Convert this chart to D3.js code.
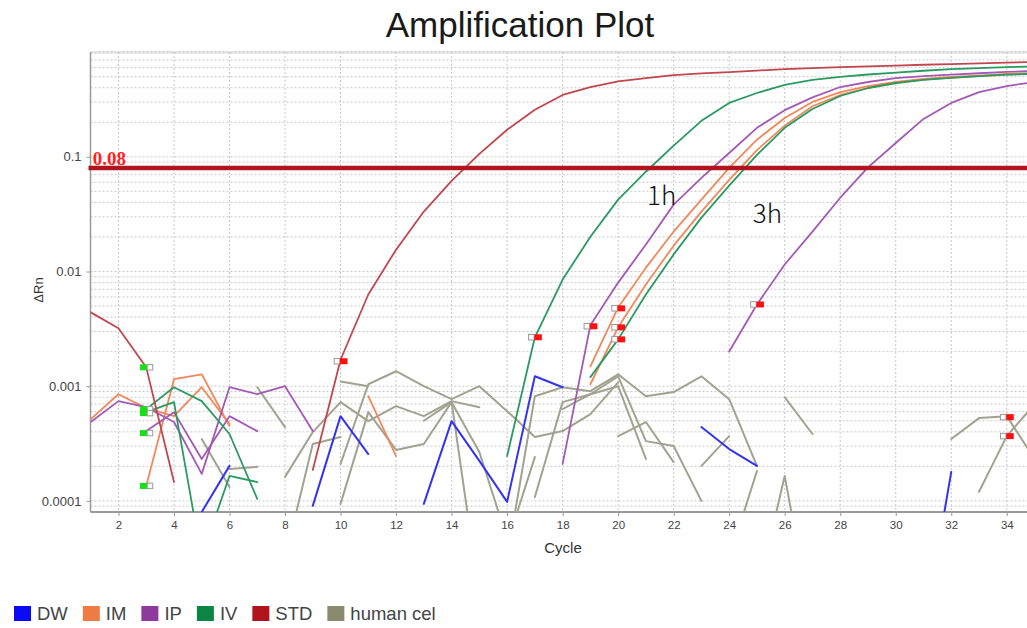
<!DOCTYPE html>
<html>
<head>
<meta charset="utf-8">
<script src="https://cdn.jsdelivr.net/npm/d3@7"></script>
<style>
  html, body { margin: 0; padding: 0; background: #ffffff; }
  svg { display: block; }
</style>
</head>
<body>
<svg id="chart" width="1027" height="628"></svg>
<script>
// ---------------- data ----------------
const chartTitle = "Amplification Plot";
const xLabel = "Cycle";
const yLabel = "ΔRn";
const xTicks = [2, 4, 6, 8, 10, 12, 14, 16, 18, 20, 22, 24, 26, 28, 30, 32, 34];
const yTicks = [0.0001, 0.001, 0.01, 0.1];
const yTickLabels = ["0.0001", "0.001", "0.01", "0.1"];
const threshold = 0.08;
const thresholdLabel = "0.08";
const legendNames = ["DW", "IM", "IP", "IV", "STD", "human cel"];
const annotations = [["1h", 21.04, 0.038], ["3h", 24.85, 0.0265]];

// each trace: [first cycle, ΔRn per cycle]
const dwTraces = [
  [5, [0.00008, 0.000202]],
  [9, [0.0000905, 0.000548, 0.000256]],
  [13, [0.0000942, 0.000496, 0.000223, 0.000098, 0.00122, 0.00098]],
  [23, [0.00044, 0.000283, 0.000202]],
  [31, [0.000007, 0.000179]]
];
const imTraces = [
  [1, [0.000516, 0.000851, 0.000644, 0.000548, 0.00098, 0.000467]],
  [3, [0.000135, 0.00115, 0.00127, 0.000449]],
  [11, [0.000818, 0.000246]],
  [19, [0.00149, 0.00486, 0.0108, 0.0223, 0.0423, 0.0802, 0.141, 0.218, 0.301, 0.367, 0.414, 0.449, 0.477, 0.497, 0.51, 0.527, 0.535]],
  [19, [0.00104, 0.00326, 0.0077, 0.0168, 0.0333, 0.063, 0.1145, 0.187, 0.276, 0.346, 0.398, 0.44, 0.47, 0.49, 0.505, 0.52, 0.53]]
];
const ipTraces = [
  [1, [0.000487, 0.000741, 0.000656, 0.000487, 0.000172, 0.00098, 0.000851, 0.001, 0.000406]],
  [3, [0.000406, 0.000594, 0.000232, 0.000548, 0.000406]],
  [18, [0.00021, 0.0034, 0.008, 0.0172, 0.0383, 0.0656, 0.108, 0.179, 0.255, 0.33, 0.406, 0.449, 0.486, 0.506, 0.52, 0.535, 0.55, 0.56]],
  [24, [0.00201, 0.00515, 0.0115, 0.0223, 0.044, 0.081, 0.132, 0.214, 0.295, 0.367, 0.414, 0.449]]
];
const ivTraces = [
  [3, [0.000594, 0.000726, 0.000031]],
  [3, [0.000631, 0.00098, 0.000741, 0.000383, 0.000104]],
  [5, [0.000033, 0.000165, 0.000146]],
  [16, [0.000246, 0.00267, 0.0085, 0.0201, 0.0423, 0.0741, 0.125, 0.206, 0.295, 0.36, 0.423, 0.468, 0.497, 0.522, 0.543, 0.563, 0.582, 0.594, 0.606, 0.612]],
  [19, [0.0012, 0.00256, 0.0063, 0.0141, 0.0295, 0.056, 0.104, 0.179, 0.261, 0.339, 0.398, 0.44, 0.468, 0.487, 0.506, 0.52, 0.53]]
];
const stdTraces = [
  [1, [0.0044, 0.0032, 0.00146, 0.000146]],
  [9, [0.000186, 0.0017, 0.0063, 0.0155, 0.0333, 0.0618, 0.106, 0.172, 0.257, 0.346, 0.406, 0.454, 0.486, 0.516, 0.533, 0.548, 0.565, 0.582, 0.594, 0.606, 0.615, 0.625, 0.635, 0.644, 0.653, 0.663, 0.67]]
];
const humanTraces = [
  [5, [0.000346, 0.000132]],
  [6, [0.00019, 0.000198]],
  [7, [0.00098, 0.00044]],
  [8, [0.000162, 0.000398, 0.000726, 0.000496, 0.00067, 0.000548, 0.000741, 0.000656]],
  [8, [0.0000313, 0.000313, 0.00036]],
  [10, [0.00021, 0.00104, 0.00135, 0.001, 0.000771, 0.001, 0.000606, 0.00036, 0.000406, 0.000571, 0.00108]],
  [10, [0.0011, 0.001]],
  [10, [0.0000942, 0.000594, 0.000278, 0.000313, 0.000726, 0.000267, 0.0000467]],
  [13, [0.0005, 0.000726, 0.000015]],
  [16, [0.0000313, 0.000818, 0.00098, 0.000905, 0.00127, 0.000818, 0.000888, 0.00122, 0.000771, 0.000202]],
  [16, [0.0000423, 0.000241]],
  [17, [0.000108, 0.000726, 0.000851, 0.001, 0.000232]],
  [18, [0.000631, 0.000851, 0.00122, 0.000332, 0.000301, 0.0001]],
  [20, [0.000367, 0.000487, 0.000218]],
  [23, [0.000202, 0.000367]],
  [24, [0.0000313, 0.000182]],
  [25, [0.000015, 0.000165, 0.000008]],
  [26, [0.000802, 0.000383]],
  [32, [0.000346, 0.000527, 0.000548, 0.000232]],
  [33, [0.00012, 0.000367, 0.000697]]
];

// baseline start / end flags: [cycle, ΔRn]
const startMarkers = [[3, 0.00146], [3, 0.000631], [3, 0.000582], [3, 0.00039], [3, 0.000135]];
const endMarkers = [[10, 0.00165], [17, 0.00267], [19, 0.00333], [20, 0.00477], [20, 0.00326],
                    [20, 0.00256], [25, 0.00516], [34, 0.000537], [34, 0.000367]];

// ---------------- styles ----------------
const legendColors = ["#0a0af5", "#f07c45", "#8e3a9c", "#0c8444", "#b0141c", "#8a8a6e"];
const lineColors = {
  DW: "#3434ee", IM: "#f0885a", IP: "#a35ab5", IV: "#2a9a62", STD: "#c0474f", "human cel": "#a2a290"
};

// ---------------- layout ----------------
const svg = d3.select("#chart");
const plot = { left: 90.5, top: 52, bottom: 512, right: 1040 };
const x = d3.scaleLinear().domain([1, 35]).range([90.7, 90.7 + 34 * 27.76]);
const y = d3.scaleLog().domain([8e-5, 0.82]).range([plot.bottom, plot.top]);

svg.append("defs").append("clipPath").attr("id", "plotClip")
  .append("rect").attr("x", plot.left).attr("y", plot.top)
  .attr("width", plot.right - plot.left).attr("height", plot.bottom - plot.top);

// grid
const gridG = svg.append("g").attr("clip-path", "url(#plotClip)");
const hGrid = [];
for (let e = -5; e <= 0; e++) {
  for (let m = 1; m <= 9; m++) {
    const v = m * Math.pow(10, e);
    if (v >= 8e-5 && v <= 0.82) hGrid.push(v);
  }
}
gridG.selectAll("line.h").data(hGrid).join("line")
  .attr("x1", plot.left).attr("x2", plot.right)
  .attr("y1", d => y(d)).attr("y2", d => y(d))
  .attr("stroke", "#c8c8c8").attr("stroke-width", 1).attr("stroke-dasharray", "2,2");
gridG.selectAll("line.v").data(xTicks).join("line")
  .attr("x1", d => x(d)).attr("x2", d => x(d))
  .attr("y1", plot.top).attr("y2", plot.bottom)
  .attr("stroke", "#c8c8c8").attr("stroke-width", 1).attr("stroke-dasharray", "2,2");

// frame
svg.append("line").attr("x1", plot.left).attr("x2", plot.right).attr("y1", plot.top).attr("y2", plot.top)
  .attr("stroke", "#c4c4c4").attr("stroke-width", 1.2);
svg.append("line").attr("x1", plot.left).attr("x2", plot.left).attr("y1", plot.top).attr("y2", plot.bottom)
  .attr("stroke", "#9a9a9a").attr("stroke-width", 1.5);
svg.append("line").attr("x1", plot.left).attr("x2", plot.right).attr("y1", plot.bottom).attr("y2", plot.bottom)
  .attr("stroke", "#9a9a9a").attr("stroke-width", 2);

// axes
const xAxis = svg.append("g").attr("transform", `translate(0,${plot.bottom})`)
  .call(d3.axisBottom(x).tickValues(xTicks).tickSize(4).tickPadding(5).tickFormat(d3.format("d")));
xAxis.select(".domain").remove();
xAxis.selectAll(".tick line").attr("stroke", "#999");
xAxis.selectAll(".tick text").attr("fill", "#444").style("font-family", "'Liberation Sans Narrow', 'Liberation Sans', Arial, sans-serif").style("font-size", "11.5px");

const yAxis = svg.append("g").attr("transform", `translate(${plot.left},0)`)
  .call(d3.axisLeft(y).tickValues(yTicks).tickSize(4).tickPadding(5).tickFormat((d, i) => yTickLabels[i]));
yAxis.select(".domain").remove();
yAxis.selectAll(".tick line").attr("stroke", "#999");
yAxis.selectAll(".tick text").attr("fill", "#444").style("font-family", "'Liberation Sans', Arial, sans-serif").style("font-size", "13px");

// curves
const lineGen = d3.line().x(d => x(d[0])).y(d => y(d[1]));
const toPoints = tr => tr[1].map((v, i) => [tr[0] + i, v]);
const curvesG = svg.append("g").attr("clip-path", "url(#plotClip)").attr("fill", "none");
const groups = [
  ["human cel", humanTraces, 2],
  ["DW", dwTraces, 2],
  ["IM", imTraces, 1.8],
  ["IP", ipTraces, 1.8],
  ["IV", ivTraces, 1.8],
  ["STD", stdTraces, 1.8]
];
groups.forEach(([name, traces, w]) => {
  curvesG.append("g").selectAll("path").data(traces).join("path")
    .attr("d", tr => lineGen(toPoints(tr)))
    .attr("stroke", lineColors[name]).attr("stroke-width", w)
    .attr("stroke-linejoin", "round").attr("stroke-linecap", "round");
});

// threshold
svg.append("line").attr("x1", plot.left - 2).attr("x2", plot.right)
  .attr("y1", y(threshold)).attr("y2", y(threshold))
  .attr("stroke", "#b0141c").attr("stroke-width", 4.5);
svg.append("text").attr("x", x(1) + 2).attr("y", y(threshold) - 3)
  .text(thresholdLabel)
  .attr("fill", "#ff1f1f").style("font-family", "'Liberation Serif', 'Times New Roman', serif")
  .style("font-weight", "bold").style("font-size", "19px");

// baseline flags
const markG = svg.append("g");
startMarkers.forEach(([c, v]) => {
  markG.append("rect").attr("x", x(c) + 1).attr("y", y(v) - 2.8).attr("width", 5.5).attr("height", 5.5)
    .attr("fill", "#fff").attr("stroke", "#999").attr("stroke-width", 1);
  markG.append("rect").attr("x", x(c) - 6.3).attr("y", y(v) - 3).attr("width", 7).attr("height", 6)
    .attr("fill", "#18e018");
});
endMarkers.forEach(([c, v]) => {
  markG.append("rect").attr("x", x(c) - 6.3).attr("y", y(v) - 2.8).attr("width", 5.5).attr("height", 5.5)
    .attr("fill", "#fff").attr("stroke", "#999").attr("stroke-width", 1);
  markG.append("rect").attr("x", x(c) - 0.5).attr("y", y(v) - 3).attr("width", 7.5).attr("height", 6)
    .attr("fill", "#ff1010");
});

// annotations
svg.selectAll("text.anno").data(annotations).join("text")
  .attr("x", d => x(d[1])).attr("y", d => y(d[2]))
  .text(d => d[0])
  .attr("fill", "#111").style("font-family", "'Noto Sans CJK SC', 'Noto Sans', sans-serif")
  .style("font-weight", 200).style("font-size", "26px");

// titles
svg.append("text").attr("x", 520).attr("y", 37).attr("text-anchor", "middle")
  .text(chartTitle).attr("fill", "#1a1a1a")
  .style("font-family", "'Liberation Sans', Arial, sans-serif").style("font-size", "35px");
svg.append("text").attr("x", 563).attr("y", 553).attr("text-anchor", "middle")
  .text(xLabel).attr("fill", "#333")
  .style("font-family", "'Liberation Sans', Arial, sans-serif").style("font-size", "15px");
svg.append("text").attr("transform", "translate(43,290) rotate(-90)").attr("text-anchor", "middle")
  .text(yLabel).attr("fill", "#333")
  .style("font-family", "'Liberation Sans', Arial, sans-serif").style("font-size", "13px");

// legend
const legendG = svg.append("g").attr("transform", "translate(14,606)");
let lx = 0;
legendNames.forEach((name, i) => {
  const item = legendG.append("g").attr("transform", `translate(${lx},0)`);
  item.append("rect").attr("width", 17).attr("height", 15).attr("fill", legendColors[i]);
  const t = item.append("text").attr("x", 23).attr("y", 13.5).text(name)
    .attr("fill", "#444").style("font-family", "'Liberation Sans', Arial, sans-serif").style("font-size", "18.5px");
  lx += 23 + t.node().getComputedTextLength() + 15;
});
</script>
</body>
</html>
